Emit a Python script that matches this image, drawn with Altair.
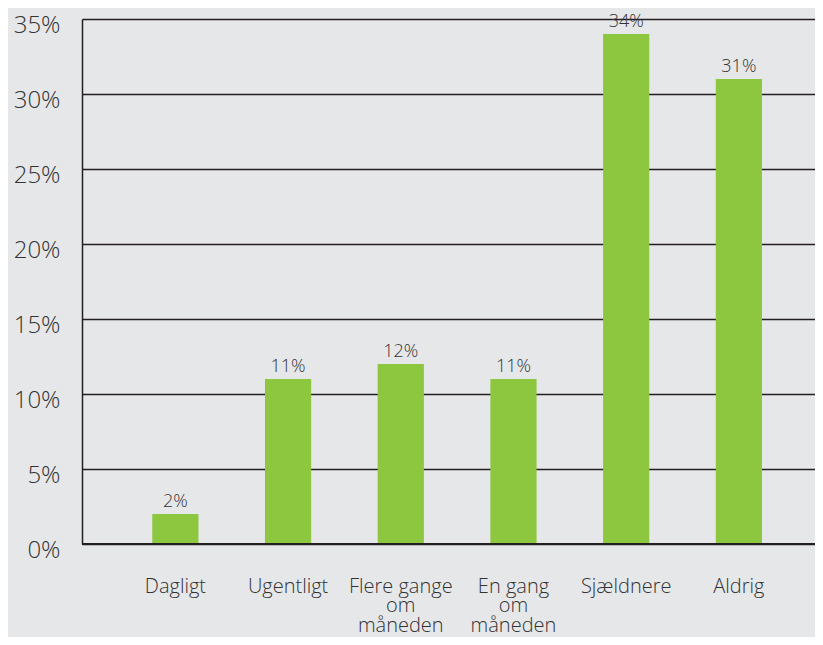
import altair as alt
import pandas as pd

categories = ["Dagligt", "Ugentligt", "Flere gange|om|måneden", "En gang|om|måneden", "Sjældnere", "Aldrig"]
values = [2, 11, 12, 11, 34, 31]
labels = ["2%", "11%", "12%", "11%", "34%", "31%"]
y_ticks = [0, 5, 10, 15, 20, 25, 30, 35]

df = pd.DataFrame({"cat": categories, "val": values, "lab": labels})

FONT = "Open Sans"
BG = "#e6e7e9"
GREEN = "#8dc63f"
TXT = "#333333"

x = alt.X("cat:N", sort=categories, title=None,
          scale=alt.Scale(paddingInner=0.59, paddingOuter=0.547, align=0.57),
          axis=alt.Axis(labelAngle=0, labelExpr="split(datum.label, '|')", labelFont=FONT,
                        labelFontSize=20, labelColor=TXT, labelFontWeight=300,
                        labelBaseline="top", labelPadding=32, labelLineHeight=19.5,
                        ticks=False, domain=False, grid=False, labelLimit=200))
y = alt.Y("val:Q", title=None,
          scale=alt.Scale(domain=[0, 35], nice=False),
          axis=alt.Axis(values=y_ticks, labelExpr="datum.value + '%'", labelFont=FONT,
                        labelFontSize=24, labelColor=TXT, labelFontWeight=300,
                        labelPadding=22, labelOffset=6, ticks=False,
                        domain=True, domainColor="#231f20", domainWidth=1.5,
                        grid=True, gridColor="#231f20", gridWidth=1.5, gridOpacity=1))

bars = alt.Chart(df).mark_bar(color=GREEN).encode(x=x, y=y)
text = alt.Chart(df).mark_text(baseline="bottom", dy=-3, font=FONT, fontSize=18,
                                fontWeight=300, color=TXT).encode(
    x=alt.X("cat:N", sort=categories), y="val:Q", text="lab:N")

base_line = alt.Chart(pd.DataFrame({"v": [0]})).mark_rule(color="#231f20", strokeWidth=2).encode(y="v:Q")

chart = alt.layer(bars, base_line, text).properties(
    width=733, height=525,
    background=BG,
    padding={"left": 74, "top": 11, "right": 0, "bottom": 93},
    autosize=alt.AutoSizeParams(type="none"),
).configure_view(stroke=None)

chart.save("out.html", embed_options={"renderer": "svg", "actions": False})
